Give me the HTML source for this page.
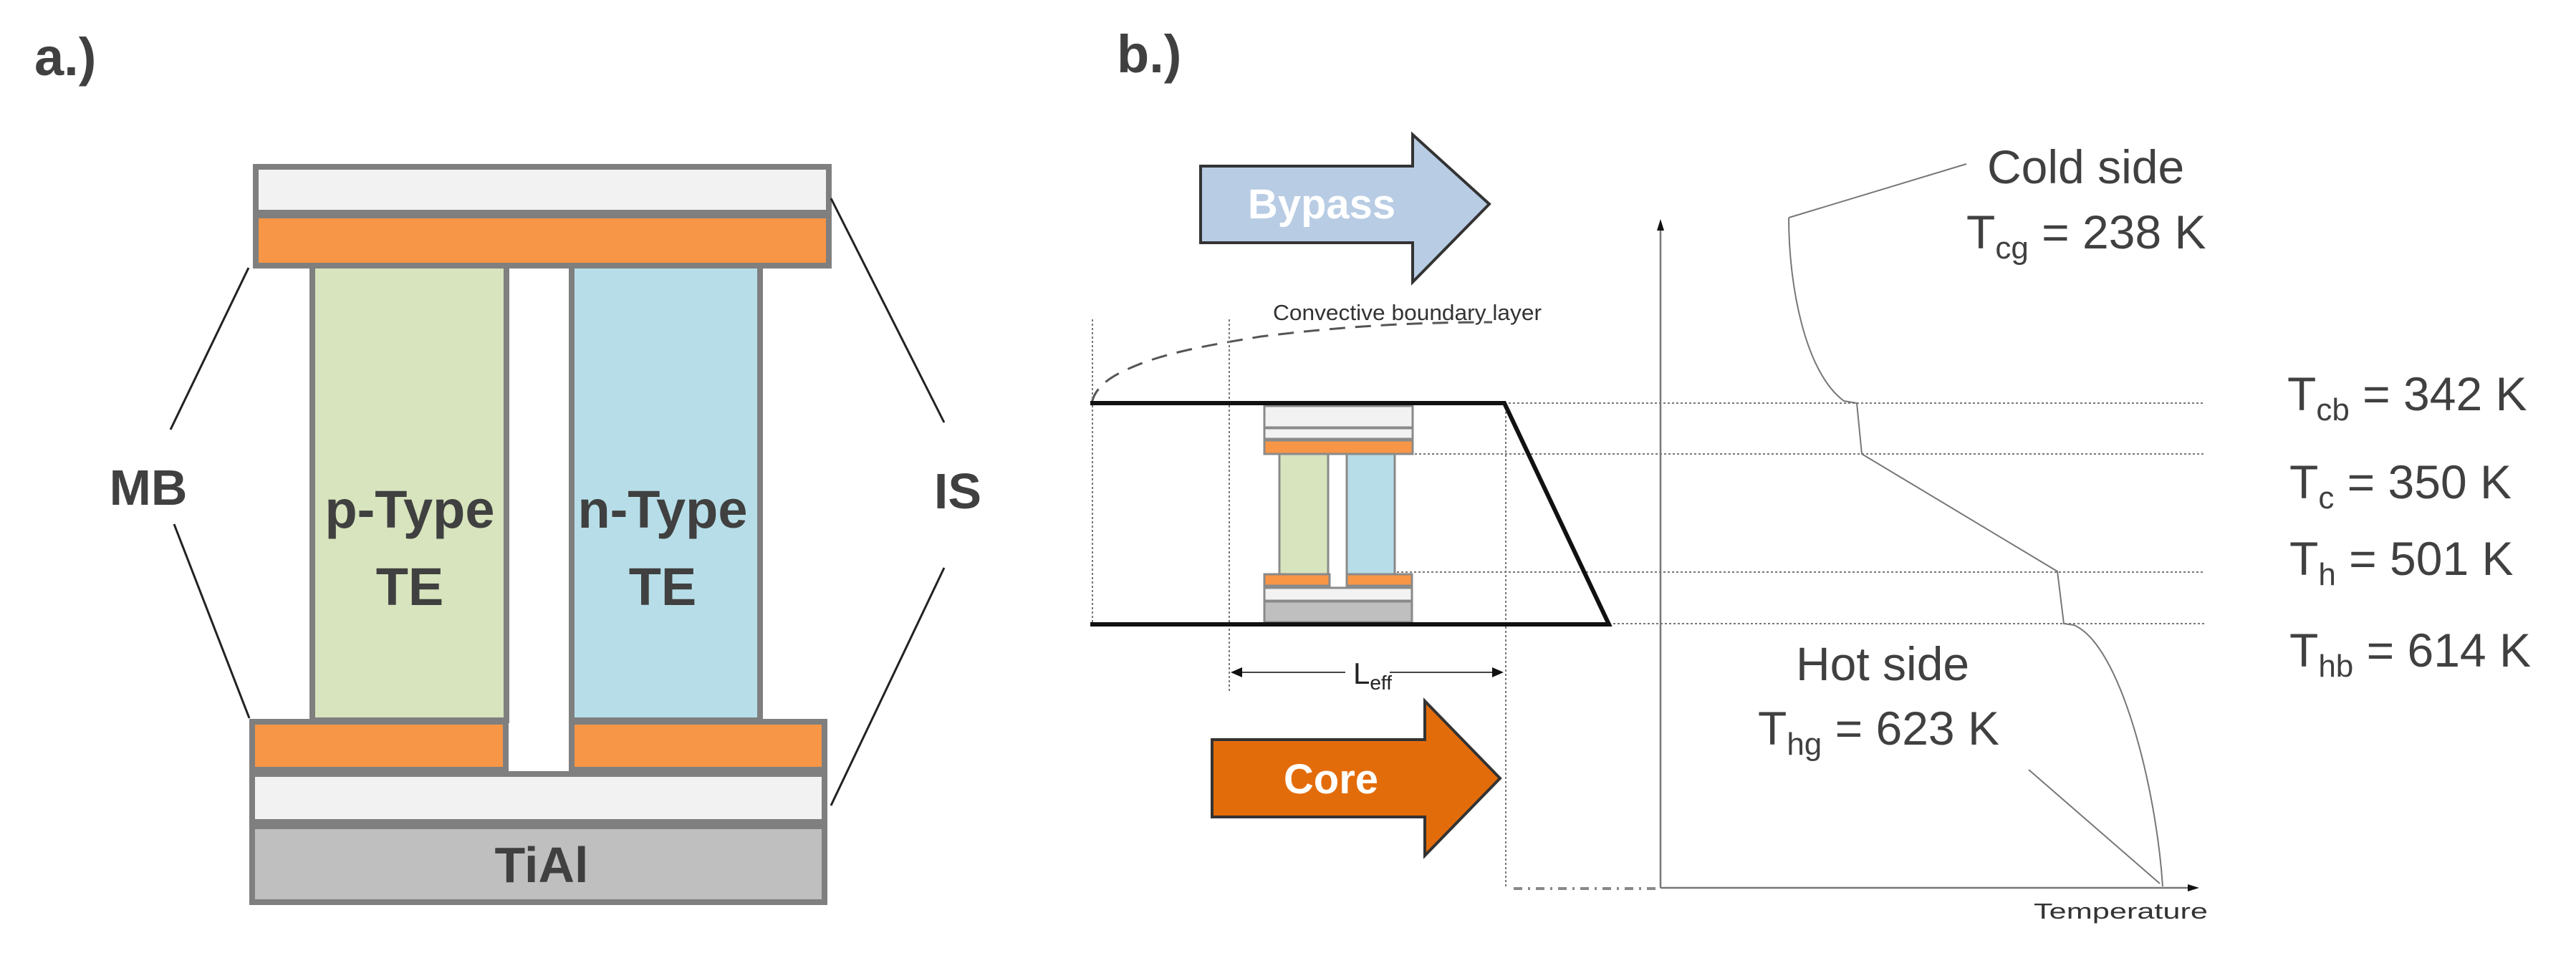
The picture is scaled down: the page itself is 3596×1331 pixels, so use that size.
<!DOCTYPE html>
<html><head><meta charset="utf-8"><style>
html,body{margin:0;padding:0;background:#fff;}
svg{display:block;}
</style></head><body>
<svg width="3596" height="1331" viewBox="0 0 3596 1331" xmlns="http://www.w3.org/2000/svg" font-family="Liberation Sans, sans-serif">
<!-- Panel a -->
<text x="48" y="105" font-size="74" font-weight="bold" fill="#404040">a.)</text>
<g stroke="#7f7f7f" stroke-width="8">
<rect x="357" y="233" width="800" height="64" fill="#f2f2f2"/>
<rect x="357" y="301" width="800" height="70" fill="#f79646"/>
<rect x="436" y="371" width="271" height="635" fill="#d7e4bd"/>
<rect x="798" y="371" width="263" height="635" fill="#b7dee8"/>
<rect x="352" y="1008" width="354" height="67" fill="#f79646"/>
<rect x="798" y="1008" width="353" height="67" fill="#f79646"/>
<rect x="352" y="1081" width="799" height="67" fill="#f2f2f2"/>
<rect x="352" y="1154" width="799" height="106" fill="#bfbfbf"/>
</g>
<g stroke="#222" stroke-width="3" fill="none">
<line x1="347" y1="374" x2="238" y2="600"/>
<line x1="243" y1="732" x2="348" y2="1003"/>
<line x1="1160" y1="277" x2="1318" y2="590"/>
<line x1="1318" y1="793" x2="1160" y2="1125"/>
</g>
<g font-weight="bold" fill="#404040" text-anchor="middle" font-size="74">
<text x="207" y="705" font-size="70">MB</text>
<text x="1337" y="710" font-size="70">IS</text>
<text x="572" y="737">p-Type</text>
<text x="572" y="845">TE</text>
<text x="925" y="737">n-Type</text>
<text x="925" y="845">TE</text>
<text x="756" y="1232" font-size="70">TiAl</text>
</g>
<!-- Panel b -->
<text x="1559" y="101" font-size="74" font-weight="bold" fill="#404040">b.)</text>
<polygon points="1676,232 1972,232 1972,188 2079,285 1972,394 1972,339 1676,339" fill="#b8cce4" stroke="#333" stroke-width="4"/>
<text x="1845" y="305" font-size="58" font-weight="bold" fill="#fff" text-anchor="middle">Bypass</text>
<polygon points="1692,1033 1989,1033 1989,979 2094,1087 1989,1195 1989,1141 1692,1141" fill="#e36c0a" stroke="#333" stroke-width="4"/>
<text x="1858" y="1108" font-size="58" font-weight="bold" fill="#fff" text-anchor="middle">Core</text>
<text x="1777" y="447" font-size="31" fill="#333" textLength="375" lengthAdjust="spacingAndGlyphs">Convective boundary layer</text>
<path d="M1524,563 C1530,535 1560,520 1600,505 C1650,488 1700,480 1760,470 C1880,455 1980,450 2083,450" fill="none" stroke="#555" stroke-width="3" stroke-dasharray="22,14"/>
<g stroke="#777" stroke-width="2" stroke-dasharray="3,3" fill="none">
<line x1="1525" y1="446" x2="1525" y2="872"/>
<line x1="1716" y1="446" x2="1716" y2="966"/>
<line x1="2102" y1="563" x2="2102" y2="1240"/>
<line x1="2100" y1="563" x2="3077" y2="563"/>
<line x1="1975" y1="634" x2="3077" y2="634"/>
<line x1="1950" y1="799" x2="3077" y2="799"/>
<line x1="2246" y1="871" x2="3077" y2="871"/>
</g>
<line x1="2113" y1="1241" x2="2318" y2="1241" stroke="#888" stroke-width="4" stroke-dasharray="12,8,3,8"/>
<!-- mini module -->
<g stroke="#8a8a8a" stroke-width="3">
<rect x="1765" y="567" width="207" height="30" fill="#f2f2f2"/>
<rect x="1765" y="598" width="207" height="15" fill="#f2f2f2"/>
<rect x="1765" y="615" width="207" height="19" fill="#f79646"/>
<rect x="1786" y="634" width="68" height="168" fill="#d7e4bd"/>
<rect x="1880" y="634" width="67" height="168" fill="#b7dee8"/>
<rect x="1765" y="802" width="91" height="16" fill="#f79646"/>
<rect x="1880" y="802" width="91" height="16" fill="#f79646"/>
<rect x="1765" y="821" width="206" height="18" fill="#f2f2f2"/>
<rect x="1765" y="840" width="206" height="29" fill="#bfbfbf"/>
</g>
<polyline points="1522,563 2100,563 2246,872 1522,872" fill="none" stroke="#111" stroke-width="6" stroke-linejoin="miter"/>
<!-- Leff -->
<line x1="1722" y1="939" x2="2095" y2="939" stroke="#444" stroke-width="2"/>
<polygon points="1718,939 1734,932 1734,946" fill="#111"/>
<polygon points="2099,939 2083,932 2083,946" fill="#111"/>
<rect x="1878" y="912" width="62" height="58" fill="#fff"/>
<text x="1889" y="955" font-size="42" fill="#222">L<tspan font-size="28" dy="8">eff</tspan></text>
<!-- axes -->
<line x1="2318" y1="318" x2="2318" y2="1240" stroke="#777" stroke-width="2.5"/>
<polygon points="2318,306 2313,322 2323,322" fill="#111"/>
<line x1="2318" y1="1240" x2="3058" y2="1240" stroke="#777" stroke-width="2.5"/>
<polygon points="3070,1240 3054,1235 3054,1245" fill="#111"/>
<text x="2839" y="1283" font-size="31" fill="#333" textLength="243" lengthAdjust="spacingAndGlyphs">Temperature</text>
<!-- curve -->
<g stroke="#777" stroke-width="2" fill="none">
<path d="M2497,304 C2497,400 2520,520 2574,560 L2592,563 L2599,634 L2872,798 L2881,871 L2895,873 C2960,900 3010,1100 3019,1238"/>
<line x1="2745" y1="229" x2="2497" y2="304"/>
<line x1="2832" y1="1075" x2="3015" y2="1234"/>
</g>
<g fill="#404040" font-size="66">
<text x="2774" y="256">Cold side</text>
<text x="2745" y="347">T<tspan font-size="44" dy="14">cg</tspan><tspan dy="-14"> = 238 K</tspan></text>
<text x="2507" y="950">Hot side</text>
<text x="2454" y="1040">T<tspan font-size="44" dy="14">hg</tspan><tspan dy="-14"> = 623 K</tspan></text>
<text x="3193" y="573">T<tspan font-size="44" dy="14">cb</tspan><tspan dy="-14"> = 342 K</tspan></text>
<text x="3196" y="696">T<tspan font-size="44" dy="14">c</tspan><tspan dy="-14"> = 350 K</tspan></text>
<text x="3196" y="803">T<tspan font-size="44" dy="14">h</tspan><tspan dy="-14"> = 501 K</tspan></text>
<text x="3196" y="931">T<tspan font-size="44" dy="14">hb</tspan><tspan dy="-14"> = 614 K</tspan></text>
</g>
</svg>
</body></html>
